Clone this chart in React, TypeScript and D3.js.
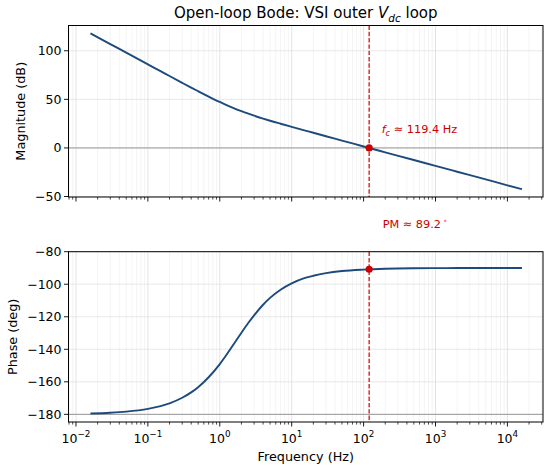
import * as d3 from "d3";
import React from "react";

// values
const freqHz = [0.0159, 0.03, 0.05, 0.1, 0.15, 0.2, 0.3, 0.4, 0.5, 0.7, 1, 1.2, 1.5, 2, 2.5, 3, 4, 5, 7, 10, 15, 20, 30, 50, 100, 200, 500, 1000, 2000, 5000, 10000, 15915];
const magDb = [117.9, 106.9, 98.0, 86.0, 79.0, 74.0, 67.0, 62.1, 58.4, 52.9, 47.3, 44.6, 41.5, 37.8, 35.2, 33.2, 30.2, 28.0, 24.9, 21.7, 18.1, 15.6, 12.0, 7.6, 1.5, -4.5, -12.4, -18.5, -24.5, -32.4, -38.5, -42.5];
const phaseDeg = [-179.5, -179.0, -178.3, -176.6, -174.9, -173.2, -169.8, -166.5, -163.3, -157.2, -149.1, -144.3, -138.0, -129.8, -123.7, -119.1, -112.6, -108.4, -103.4, -99.5, -96.3, -94.8, -93.2, -91.9, -91.0, -90.5, -90.2, -90.1, -90.05, -90.0, -90.0, -90.0];

const magTicks = [100, 50, 0, -50];
const phaseTicks = [-80, -100, -120, -140, -160, -180];
const decadeTicks = [-2, -1, 0, 1, 2, 3, 4];

const fc = 119.4;
const pm = 89.2;
const phaseAtFc = -90.8;

const W = 550;
const H = 470;
const left = 68.5;
const right = 543;
const top1 = [25.5, 197];
const bot1 = [251.7, 422];

const blue = "#1d4a7c";
const red = "#cc0000";
const font = "DejaVu Sans, sans-serif";
const tickSize = 12.5;

const fmt = (v: number) => (v < 0 ? "\u2212" + Math.abs(v) : String(v));

const x = d3.scaleLog().domain([Math.pow(10, -2.104), Math.pow(10, 4.495)]).range([left, right]);
const yMag = d3.scaleLinear().domain([-50.5, 126]).range([top1[1], top1[0]]);
const yPh = d3.scaleLinear().domain([-184.7, -80]).range([bot1[1], bot1[0]]);

const minorTicks: number[] = [];
for (let e = -3; e <= 4; e++) {
  for (let m = 2; m <= 9; m++) {
    const v = m * Math.pow(10, e);
    const [a, b] = x.domain();
    if (v >= a && v <= b) minorTicks.push(v);
  }
}

const pts = freqHz.map((f, i) => ({ f, mag: magDb[i], ph: phaseDeg[i] }));

function Panel({ y, range, ticks, valueKey, refLine, showXLabels, label }: any) {
  const line = d3
    .line<any>()
    .x((d) => x(d.f))
    .y((d) => y(d[valueKey]))
    .curve(d3.curveMonotoneX);
  const [yT, yB] = range;
  return (
    <g>
      {/* grid */}
      {minorTicks.map((v) => (
        <line key={"mg" + v} x1={x(v)} x2={x(v)} y1={yT} y2={yB} stroke="#ededed" strokeWidth={0.6} />
      ))}
      {decadeTicks.map((e) => (
        <line key={"g" + e} x1={x(Math.pow(10, e))} x2={x(Math.pow(10, e))} y1={yT} y2={yB} stroke="#dcdcdc" strokeWidth={0.8} />
      ))}
      {ticks.map((t: number) => (
        <line key={"yg" + t} x1={left} x2={right} y1={y(t)} y2={y(t)} stroke="#e2e2e2" strokeWidth={0.8} />
      ))}
      <line x1={left} x2={right} y1={y(refLine)} y2={y(refLine)} stroke="#999" strokeWidth={1} />
      <line x1={x(fc)} x2={x(fc)} y1={yT} y2={yB} stroke={red} strokeWidth={1.2} strokeDasharray="4.4,1.9" />
      <path d={line(pts) || ""} fill="none" stroke={blue} strokeWidth={1.9} />
      <circle cx={x(fc)} cy={y(valueKey === "mag" ? 0 : phaseAtFc)} r={3.6} fill={red} />
      {/* frame */}
      <rect x={left} y={yT} width={right - left} height={yB - yT} fill="none" stroke="#000" strokeWidth={1} />
      {/* y ticks */}
      {ticks.map((t: number) => (
        <g key={"yt" + t}>
          <line x1={left - 4.5} x2={left} y1={y(t)} y2={y(t)} stroke="#000" strokeWidth={0.9} />
          <text x={left - 7} y={y(t)} dy="0.36em" textAnchor="end" fontSize={tickSize} fontFamily={font}>
            {fmt(t)}
          </text>
        </g>
      ))}
      {/* x ticks */}
      {decadeTicks.map((e) => (
        <g key={"xt" + e}>
          <line x1={x(Math.pow(10, e))} x2={x(Math.pow(10, e))} y1={yB} y2={yB + 4.5} stroke="#000" strokeWidth={0.9} />
          {showXLabels && (
            <text x={x(Math.pow(10, e))} y={yB + 20.5} textAnchor="middle" fontSize={tickSize} fontFamily={font}>
              10
              <tspan dy={-5.5} fontSize={8.8}>
                {fmt(e)}
              </tspan>
            </text>
          )}
        </g>
      ))}
      {minorTicks.map((v) => (
        <line key={"mt" + v} x1={x(v)} x2={x(v)} y1={yB} y2={yB + 2.6} stroke="#000" strokeWidth={0.7} />
      ))}
      <text
        transform={`translate(${label.x},${(yT + yB) / 2}) rotate(-90)`}
        textAnchor="middle"
        dy="0.36em"
        fontSize={12.8}
        fontFamily={font}
      >
        {label.text}
      </text>
    </g>
  );
}

export default function App() {
  return (
    <svg width={W} height={H} style={{ position: "absolute", left: 0, top: 0, background: "#fff" }}>
      <text x={(left + right) / 2} y={18} textAnchor="middle" fontSize={15} fontFamily={font}>
        Open-loop Bode: VSI outer{" "}
        <tspan fontStyle="italic">V</tspan>
        <tspan fontStyle="italic" fontSize={10.5} dy={3.5}>
          dc
        </tspan>
        <tspan dy={-3.5}> loop</tspan>
      </text>
      <Panel y={yMag} range={top1} ticks={magTicks} valueKey="mag" refLine={0} showXLabels={false} label={{ x: 20, text: "Magnitude (dB)" }} />
      <Panel y={yPh} range={bot1} ticks={phaseTicks} valueKey="ph" refLine={-180} showXLabels={true} label={{ x: 12.5, text: "Phase (deg)" }} />
      <text x={x(fc) + 12.5} y={133} fontSize={11.3} fontFamily={font} fill={red}>
        <tspan fontStyle="italic">f</tspan>
        <tspan fontStyle="italic" fontSize={8.2} dy={2.5}>c</tspan>
        <tspan dy={-2.5}> ≈ 119.4 Hz</tspan>
      </text>
      <text x={x(fc) + 13.5} y={227.5} fontSize={11.3} fontFamily={font} fill={red}>
        PM ≈ {pm.toFixed(1)}
        <tspan dx={2} dy={-5} fontSize={7}>∘</tspan>
      </text>
      <text x={(left + right) / 2} y={461} textAnchor="middle" fontSize={12.8} fontFamily={font}>
        Frequency (Hz)
      </text>
    </svg>
  );
}
